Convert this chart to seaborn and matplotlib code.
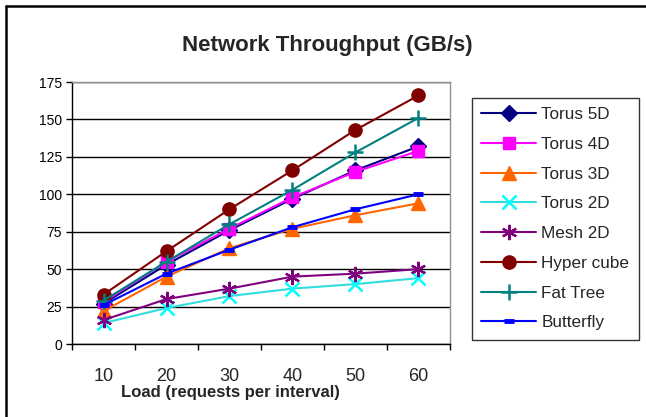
import matplotlib
matplotlib.use("Agg")
import matplotlib.pyplot as plt
from matplotlib.lines import Line2D
import seaborn as sns
import pandas as pd

loads = ["10", "20", "30", "40", "50", "60"]
series_names = ["Torus 5D", "Torus 4D", "Torus 3D", "Torus 2D", "Mesh 2D",
                "Hyper cube", "Fat Tree", "Butterfly"]
torus5d = [27, 53, 76, 97, 116, 132]
torus4d = [28, 55, 77, 98, 115, 129]
torus3d = [22, 45, 64, 77, 86, 94]
torus2d = [14, 24, 32, 37, 40, 44]
mesh2d = [16, 30, 37, 45, 47, 50]
hypercube = [33, 62, 90, 116, 143, 166]
fattree = [29, 55, 80, 103, 128, 151]
butterfly = [26, 47, 63, 78, 90, 100]
values = [torus5d, torus4d, torus3d, torus2d, mesh2d, hypercube, fattree, butterfly]

colors = ["#000080", "#FF00FF", "#FF6600", "#33DDDD", "#800080",
          "#800000", "#008080", "#0000FF"]
marker_colors = ["#000080", "#FF00FF", "#FF6600", "#00FFFF", "#800080",
                 "#800000", "#008080", "#0000FF"]
markers = ["D", "s", "^", "x", (6, 2, 0), "o", "+", "_"]
msizes = [8, 8.5, 9.5, 9.5, 11, 9.5, 11, 7]
mews = [1, 1, 1, 1.8, 1.6, 1, 1.8, 3.5]

rows = []
for name, vals in zip(series_names, values):
    for x, v in zip(loads, vals):
        rows.append({"Load": x, "Throughput": v, "Series": name})
df = pd.DataFrame(rows)

sns.set_style("white")
plt.rcParams["font.family"] = ["Liberation Sans", "DejaVu Sans"]

fig = plt.figure(figsize=(6.46, 4.17), dpi=100)
W, H = 646, 417
ax = fig.add_axes([72 / W, 1 - 344 / H, (450 - 72) / W, (344 - 82) / H])

for i, name in enumerate(series_names):
    sub = df[df["Series"] == name]
    sns.lineplot(data=sub, x="Load", y="Throughput", ax=ax, color=colors[i],
                 marker=markers[i], markersize=msizes[i],
                 markeredgecolor=marker_colors[i], markerfacecolor=marker_colors[i],
                 markeredgewidth=mews[i], linewidth=1.5, label=name,
                 sort=False, errorbar=None)

ax.set_xlim(-0.5, 5.5)
ax.set_ylim(0, 175)
ax.set_yticks(range(0, 176, 25))
ax.tick_params(axis="y", labelsize=10, length=4.3, width=1, direction="out",
               left=True, pad=3, colors="black")
ax.set_xticks(range(len(loads)))
ax.set_xticklabels(loads)
ax.set_xticks([i - 0.5 for i in range(len(loads) + 1)], minor=True)
ax.tick_params(axis="x", which="major", length=0, labelsize=13, pad=17)
ax.tick_params(axis="x", which="minor", length=4.3, width=1, bottom=True,
               direction="out", color="black")
ax.set_xlabel("")
ax.set_ylabel("")
ax.yaxis.grid(True, color="black", linewidth=1)
ax.set_axisbelow(True)
for s in ["left", "bottom"]:
    ax.spines[s].set_color("black")
    ax.spines[s].set_linewidth(1)
for s in ["top", "right"]:
    ax.spines[s].set_color("#909090")
    ax.spines[s].set_linewidth(1)

fig.text(327 / W, 1 - 45 / H, "Network Throughput (GB/s)", ha="center",
         va="center", fontsize=16, fontweight="bold")
fig.text(230 / W, 1 - 392 / H, "Load (requests per interval)", ha="center",
         va="center", fontsize=12, fontweight="bold")

leg = ax.legend(loc="upper left", bbox_to_anchor=(472 / W, 1 - 98 / H),
                bbox_transform=fig.transFigure, borderaxespad=0,
                frameon=True, fancybox=False, fontsize=12.3, labelspacing=0.86,
                handlelength=3.2, handletextpad=0.3, borderpad=0.55)
leg.get_frame().set_edgecolor("black")
leg.get_frame().set_linewidth(1)

# outer chart frame (left and top edges visible)
fig.add_artist(Line2D([6 / W, 6 / W], [1 - 6 / H, 0], transform=fig.transFigure,
                      color="black", linewidth=1.8))
fig.add_artist(Line2D([6 / W, 1], [1 - 6 / H, 1 - 6 / H], transform=fig.transFigure,
                      color="black", linewidth=1.8))

fig.savefig("out.png", dpi=100)
